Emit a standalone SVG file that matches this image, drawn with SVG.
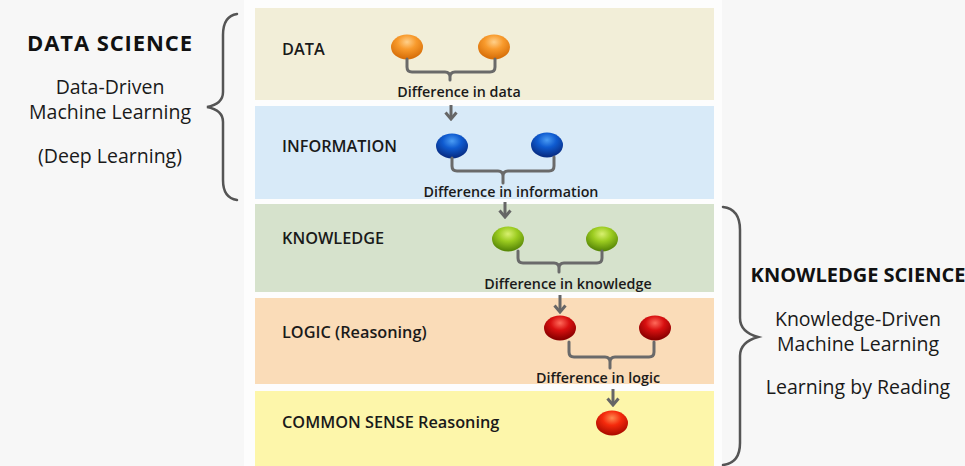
<svg xmlns="http://www.w3.org/2000/svg" width="965" height="466" viewBox="0 0 965 466">
<defs>
<style>
.lbl{font-family:"Open Sans","Noto Sans",sans-serif;font-size:16.3px;font-weight:600;fill:#1a1a1a}
.dif{font-family:"Open Sans","Noto Sans",sans-serif;font-size:14.3px;font-weight:600;fill:#1a1a1a;text-anchor:middle}
.side{font-family:"Open Sans","Noto Sans",sans-serif;font-size:19.5px;fill:#1a1a1a;text-anchor:middle}
.head{font-family:"Open Sans","Noto Sans",sans-serif;font-size:20px;font-weight:700;fill:#111;text-anchor:middle}
.br{fill:none;stroke:#6a6a6a;stroke-width:3;stroke-linecap:round;stroke-linejoin:round}
.arr{fill:none;stroke:#666;stroke-width:3}
.brace{fill:none;stroke:#555;stroke-width:2.5;stroke-linecap:round}
</style>
<radialGradient id="gO" cx="50%" cy="30%" r="65%"><stop offset="0" stop-color="#ffd08a"/><stop offset="0.45" stop-color="#f89a2c"/><stop offset="1" stop-color="#d8700a"/></radialGradient>
<radialGradient id="gB" cx="50%" cy="30%" r="65%"><stop offset="0" stop-color="#4a9cf4"/><stop offset="0.45" stop-color="#0f5bd0"/><stop offset="1" stop-color="#082e86"/></radialGradient>
<radialGradient id="gG" cx="50%" cy="30%" r="65%"><stop offset="0" stop-color="#d8f070"/><stop offset="0.45" stop-color="#9ccc20"/><stop offset="1" stop-color="#5a8a08"/></radialGradient>
<radialGradient id="gR" cx="50%" cy="30%" r="65%"><stop offset="0" stop-color="#ff6a5a"/><stop offset="0.45" stop-color="#d81010"/><stop offset="1" stop-color="#8a0000"/></radialGradient>
<radialGradient id="gC" cx="50%" cy="30%" r="65%"><stop offset="0" stop-color="#ff8a50"/><stop offset="0.45" stop-color="#f52a0c"/><stop offset="1" stop-color="#b00c00"/></radialGradient>
<marker id="ah" viewBox="0 0 10 14" refX="8" refY="7" markerWidth="10" markerHeight="14" orient="auto" markerUnits="userSpaceOnUse"><path d="M1.5,1.5 L8,7 L1.5,12.5" fill="none" stroke="#666" stroke-width="3"/></marker>
</defs>
<rect width="965" height="466" fill="#f7f7f7"/>
<rect x="244" y="0" width="478" height="466" fill="#fdfdfd"/>

<g id="band-data">
<rect x="255" y="8" width="459" height="92" fill="#f2eed8"/>
<text class="lbl" x="282" y="55">DATA</text>
<ellipse cx="407" cy="47" rx="16" ry="12.5" fill="url(#gO)"/>
<ellipse cx="494" cy="47" rx="16" ry="12.5" fill="url(#gO)"/>
<text class="dif" x="459" y="97">Difference in data</text>
</g>
<g id="band-information">
<rect x="255" y="106" width="459" height="93" fill="#d8eaf8"/>
<text class="lbl" x="282" y="152">INFORMATION</text>
<ellipse cx="452" cy="146" rx="16" ry="12.5" fill="url(#gB)"/>
<ellipse cx="547" cy="145" rx="16" ry="12.5" fill="url(#gB)"/>
<text class="dif" x="511" y="197">Difference in information</text>
</g>
<g id="band-knowledge">
<rect x="255" y="204" width="459" height="88" fill="#d6e2cc"/>
<text class="lbl" x="282" y="244">KNOWLEDGE</text>
<ellipse cx="508" cy="239" rx="16" ry="12.5" fill="url(#gG)"/>
<ellipse cx="602" cy="239" rx="16" ry="12.5" fill="url(#gG)"/>
<text class="dif" x="568" y="289">Difference in knowledge</text>
</g>
<g id="band-logic">
<rect x="255" y="298" width="459" height="86" fill="#fadcb8"/>
<text class="lbl" x="282" y="338">LOGIC (Reasoning)</text>
<ellipse cx="560" cy="328" rx="16" ry="12.5" fill="url(#gR)"/>
<ellipse cx="655" cy="328" rx="16" ry="12.5" fill="url(#gR)"/>
<text class="dif" x="598" y="383">Difference in logic</text>
</g>
<g id="band-commonsense">
<rect x="255" y="391" width="459" height="75" fill="#fdf6aa"/>
<text class="lbl" x="282" y="428">COMMON SENSE Reasoning</text>
<ellipse cx="612" cy="423" rx="16" ry="12.5" fill="url(#gC)"/>
</g>

<g id="connectors">
<path class="br" d="M407,59 V67 Q407,72 412,72 H445 Q450,72 450,77 V80 M450,77 Q450,72 455,72 H490 Q495,72 495,67 V59"/>
<path class="br" d="M452,158 V166 Q452,171 457,171 H498 Q503,171 503,176 V183 M503,176 Q503,171 508,171 H549 Q554,171 554,166 V157"/>
<path class="br" d="M518,251 V258 Q518,263 523,263 H554 Q559,263 559,268 V272 M559,268 Q559,263 564,263 H597 Q602,263 602,258 V251"/>
<path class="br" d="M569,342 V352 Q569,357 574,357 H605 Q610,357 610,362 V368 M610,362 Q610,357 615,357 H649 Q654,357 654,352 V342"/>
<line class="arr" x1="451" y1="105" x2="451" y2="119" marker-end="url(#ah)"/>
<line class="arr" x1="505" y1="202" x2="505" y2="217" marker-end="url(#ah)"/>
<line class="arr" x1="560" y1="295" x2="560" y2="312" marker-end="url(#ah)"/>
<line class="arr" x1="613" y1="389" x2="613" y2="405" marker-end="url(#ah)"/>
</g>

<g id="data-science">
<path class="brace" d="M237,14 Q223,16 223,35 V92 Q223,104 207,107 Q223,110 223,122 V180 Q223,198 237,200"/>
<text class="head" x="110" y="51" style="font-size:22px;letter-spacing:0.9px">DATA SCIENCE</text>
<text class="side" x="110" y="94">Data-Driven</text>
<text class="side" x="110" y="119">Machine Learning</text>
<text class="side" x="110" y="163">(Deep Learning)</text>
</g>
<g id="knowledge-science">
<path class="brace" d="M723,207 Q740,209 740,230 V318 Q740,332 758,337 Q740,342 740,356 V443 Q740,463 723,465"/>
<text class="head" x="858" y="282">KNOWLEDGE SCIENCE</text>
<text class="side" x="858" y="326">Knowledge-Driven</text>
<text class="side" x="858" y="351">Machine Learning</text>
<text class="side" x="858" y="394">Learning by Reading</text>
</g>
</svg>
